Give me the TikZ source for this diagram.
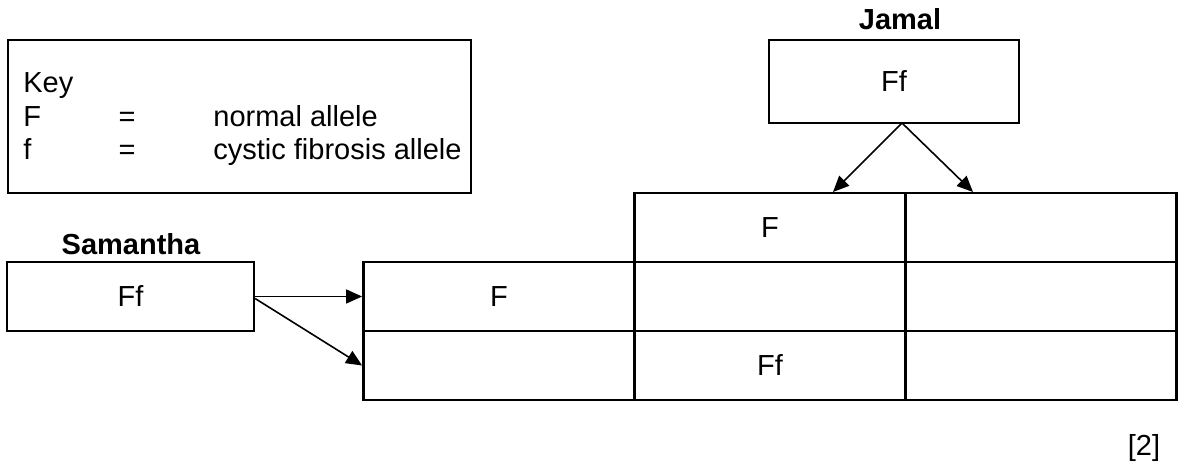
\documentclass[tikz,border=0pt]{standalone}
\usepackage{fontspec}
\setmainfont{Liberation Sans}
\usetikzlibrary{arrows.meta}
\begin{document}
\begin{tikzpicture}[x=0.5pt,y=-0.5pt,
  every node/.style={font=\fontsize{14.5}{17}\selectfont, inner sep=0pt},
  box/.style={draw, line width=1.1pt, minimum width=#1},
  cell/.style={draw, line width=1.4pt, minimum width=135.5pt, minimum height=34.5pt},
  lbl/.style={font=\fontsize{14.5}{17}\selectfont\bfseries},
  arr/.style={-{Triangle[length=8pt,width=7pt]}, line width=0.8pt}]
\useasboundingbox (0,0) rectangle (1185,469);
% key
\node[box=231.5pt, minimum height=76.5pt] (key) at (239.5,116.5) {};
\node[anchor=base west] (k0) at (23,93) {Key};
\node[anchor=base west] (k1) at (23,127) {F};
\node[anchor=base] (k2) at (127,127) {=};
\node[anchor=base west] (k3) at (213,127) {normal allele};
\node[anchor=base west] (k4) at (23,160) {f};
\node[anchor=base] (k5) at (127,160) {=};
\node[anchor=base west] (k6) at (213,160) {cystic fibrosis allele};
% Jamal
\node[lbl, anchor=base] (jl) at (900,30) {Jamal};
\node[box=125pt, minimum height=41.5pt] (jamal) at (894,81.5) {Ff};
% Samantha
\node[lbl, anchor=base] (sl) at (131,255) {Samantha};
\node[box=123.5pt, minimum height=34.5pt] (sam) at (130.5,296.5) {Ff};
% table
\node[cell] (c12) at (770,227.5) {F};
\node[cell] (c13) at (1041,227.5) {};
\node[cell] (c21) at (499,296.5) {F};
\node[cell] (c22) at (770,296.5) {};
\node[cell] (c23) at (1041,296.5) {};
\node[cell] (c31) at (499,365.5) {};
\node[cell] (c32) at (770,365.5) {Ff};
\node[cell] (c33) at (1041,365.5) {};
% arrows
\coordinate (ja) at (902,123);
\coordinate (jt1) at (833,192);
\coordinate (jt2) at (973,192);
\draw[arr] (ja) -- (jt1);
\draw[arr] (ja) -- (jt2);
\draw[arr] (sam.east) -- (c21.west);
\draw[arr] ([yshift=-1pt]sam.east) -- (c31.west);
% marks
\node[anchor=base] (mk) at (1144,456) {[2]};
\end{tikzpicture}
\end{document}
